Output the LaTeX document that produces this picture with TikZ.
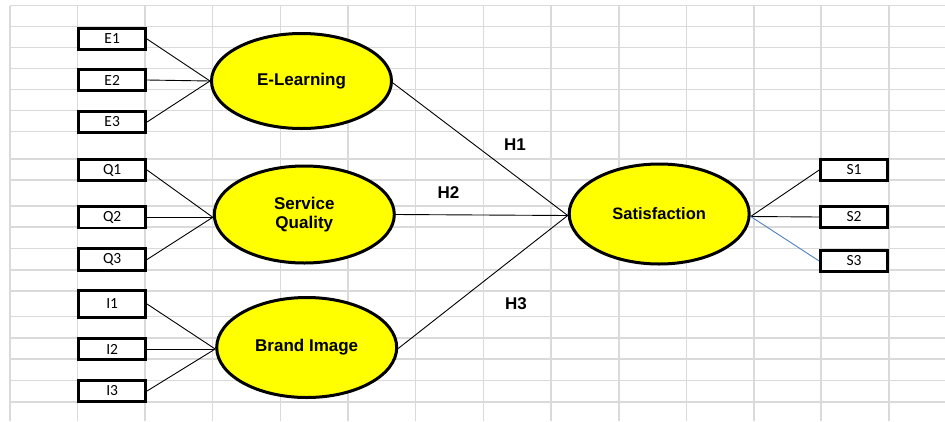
\documentclass[tikz,border=0pt]{standalone}
\usepackage{fontspec}
\setmainfont{Carlito}
\newfontfamily\arialf{Liberation Sans}
\usetikzlibrary{shapes.geometric}
\definecolor{gridgray}{HTML}{DADADA}
\definecolor{latyellow}{HTML}{FFFF00}
\definecolor{linkblue}{RGB}{79,129,189}
\begin{document}
\begin{tikzpicture}[x=1pt,y=-1pt,
  ind/.style={draw=black, line width=2.7pt, fill=white, minimum width=67pt, minimum height=21.5pt, inner sep=0pt, font=\fontsize{15.5}{17}\selectfont},
  lat/.style={ellipse, draw=black, line width=3pt, fill=latyellow, inner sep=0pt, minimum width=180pt, font=\arialf\bfseries\fontsize{17}{19.5}\selectfont, align=center},
  link/.style={draw=black, line width=0.9pt},
  hyp/.style={font=\arialf\bfseries\fontsize{17}{19}\selectfont, inner sep=0pt},
  gridline/.style={draw=gridgray, line width=1.3pt}
]
\useasboundingbox (0,0) rectangle (945,421);
\fill[white] (0,0) rectangle (945,421);
\foreach \x in {10,77.5,145,212.5,280.5,348,415.5,483.3,551,619,686.5,754,821,889}
  \draw[gridline] (\x,5.7) -- (\x,421);
\foreach \y in {5.7,26.7,47.7,68.7,89.7,110.7,131.5,159,180,206,227,248.5,270,291,316.7,338,359,380.7,402}
  \draw[gridline] (10,\y) -- (945,\y);

% latent variables
\node[lat, minimum height=95pt] (el) at (301.5,81) {E-Learning};
\node[lat, minimum height=97pt] (sq) at (304.3,214.5) {Service\\Quality};
\node[lat, minimum height=100pt] (bi) at (306.7,347.5) {Brand Image};
\node[lat, minimum height=100pt, font=\arialf\bfseries\fontsize{16.5}{18}\selectfont] (sat) at (659.2,214) {Satisfaction};

% indicators
\node[ind] (e1) at (112.2,39) {E1};
\node[ind] (e2) at (112.2,80) {E2};
\node[ind] (e3) at (112.2,122) {E3};
\node[ind] (q1) at (112.2,170) {Q1};
\node[ind] (q2) at (112.2,217.3) {Q2};
\node[ind] (q3) at (112.2,259.5) {Q3};
\node[ind, minimum height=27pt] (i1) at (112.2,304) {I1};
\node[ind] (i2) at (112.2,349) {I2};
\node[ind] (i3) at (112.2,391) {I3};
\node[ind] (s1) at (854,170) {S1};
\node[ind] (s2) at (854,217) {S2};
\node[ind] (s3) at (854,261) {S3};

% measurement links
\coordinate (elw) at (el.west);
\coordinate (sqw) at ([yshift=-2.8pt]sq.west);
\coordinate (biw) at ([yshift=-1.5pt]bi.west);
\coordinate (satw) at ([yshift=-1.5pt]sat.west);
\coordinate (sate) at ([yshift=-2.5pt]sat.east);
\draw[link] (e1.east) -- (elw);
\draw[link] (e2.east) -- (elw);
\draw[link] (e3.east) -- (elw);
\draw[link] (q1.east) -- (sqw);
\draw[link] (q2.east) -- (sqw);
\draw[link] (q3.east) -- (sqw);
\draw[link] (i1.east) -- (biw);
\draw[link] (i2.east) -- (biw);
\draw[link] (i3.east) -- (biw);
\draw[link] (sate) -- (s1.west);
\draw[link] (sate) -- (s2.west);
\draw[link, draw=linkblue] (sate) -- (s3.west);

% structural links
\coordinate (ele) at ([yshift=-2pt]el.east);
\coordinate (bie) at ([yshift=-1pt]bi.east);
\draw[link] (ele) -- (satw);
\draw[link] (sq.east) -- (satw);
\draw[link] (bie) -- (satw);

% hypothesis labels
\node[hyp] (h1) at (515,145) {H1};
\node[hyp] (h2) at (448.5,192.3) {H2};
\node[hyp] (h3) at (516,303.3) {H3};
\end{tikzpicture}
\end{document}
